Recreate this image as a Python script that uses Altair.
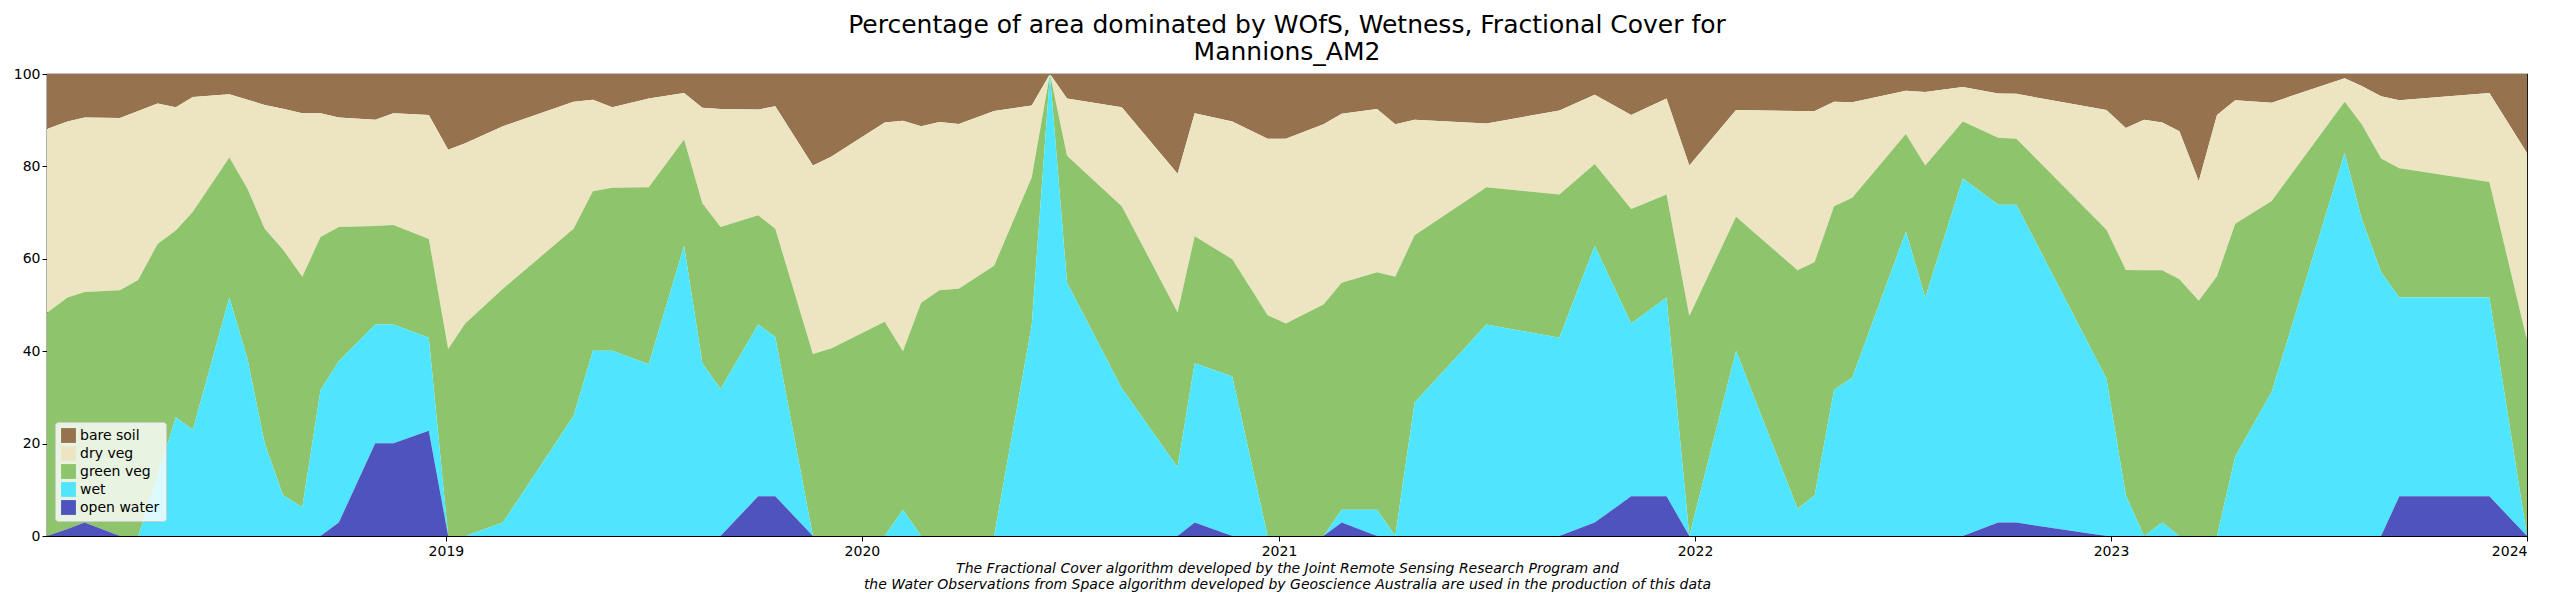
import altair as alt
import pandas as pd

dates = ["2018-01-16","2018-02-03","2018-02-18","2018-03-21","2018-04-06","2018-04-23","2018-05-09","2018-05-24",
"2018-06-25","2018-07-11","2018-07-26","2018-08-11","2018-08-28","2018-09-13","2018-09-29","2018-10-31",
"2018-11-16","2018-12-17","2019-01-03","2019-01-18","2019-02-20","2019-04-23","2019-05-10","2019-05-27",
"2019-06-28","2019-07-29","2019-08-14","2019-08-30","2019-10-02","2019-10-17","2019-11-19","2019-12-05",
"2020-01-21","2020-02-06","2020-02-22","2020-03-09","2020-03-26","2020-04-26","2020-05-29","2020-06-14",
"2020-06-29","2020-08-16","2020-10-04","2020-10-19","2020-11-21","2020-12-22","2021-01-07","2021-02-09",
"2021-02-25","2021-03-28","2021-04-13","2021-04-30","2021-07-02","2021-09-04","2021-10-05","2021-11-06",
"2021-12-07","2021-12-27","2022-02-06","2022-04-01","2022-04-16","2022-05-03","2022-05-19","2022-07-05",
"2022-07-22","2022-08-24","2022-09-24","2022-10-10","2022-12-28","2023-01-14","2023-01-30","2023-02-15",
"2023-03-02","2023-03-19","2023-04-04","2023-04-20","2023-05-22","2023-07-25","2023-08-09","2023-08-26",
"2023-09-11","2023-11-29","2024-01-01"]

open_water = [0,1.5,2.9,0,0,0,0,0,0,0,0,0,0,0,2.9,20.1,20.1,22.8,0,0,0,0,0,0,0,0,0,0,8.6,8.6,0,0,
0,0,0,0,0,0,0,0,0,0,0,2.9,0,0,0,0,2.9,0,0,0,0,0,2.9,8.6,8.6,0,0,0,0,0,0,0,0,0,2.9,2.9,0,0,0,0,
0,0,0,0,0,0,0,0,8.6,8.6,0]
wet = [0,0,0,0,0,13,25.7,23,51.6,38.2,20.1,8.8,6.2,31.6,34.9,25.7,25.7,20.1,0,0,2.9,26,40.1,40.1,
37.2,62.8,37.4,31.8,37.2,34.5,0,0,0,5.7,0,0,0,0,45.6,100,54.8,32,14.9,34.5,34.5,0,0,0,2.8,5.7,0,28.9,
45.8,42.9,59.9,37.4,43,0,40.1,5.9,8.8,31.6,34.3,65.9,51.6,77.4,68.8,68.8,34.1,8.8,0,2.9,0,0,0,17.2,
31.2,82.9,68.6,57.1,43,43,0]
green_veg = [48.3,50.1,49.9,53.2,55.4,50.2,40.4,47.2,30.3,36.9,46.4,53.2,49.9,33.1,29.1,21.3,21.5,21.4,
40.5,46,50.6,40.5,34.5,35.3,38.3,23,34.6,35.1,23.6,23.4,39.4,40.6,46.4,34.3,50.5,53.2,53.5,58.5,32,0,
27.5,39.4,33.5,27.5,25.4,47.8,46,50.1,49.1,51.4,56.1,36.2,29.7,31,17.7,24.8,22.3,47.6,29,51.6,50.5,39.8,
38.9,21.1,28.6,12.3,14.5,14.3,32.2,48.8,57.5,54.6,55.6,50.9,56.2,50.4,41.3,11.1,20.5,24.6,28,25,42.3]
dry_veg = [39.8,38.1,37.8,37.3,36.6,30.4,26.7,24.8,13.7,19.3,26.8,30.5,35.4,26.8,23.7,23,24.2,26.8,43.1,
39,35.2,27.5,19.8,17.4,19.2,10.1,20.7,25.5,22.9,26.5,40.8,41.5,43.1,49.9,38.2,36.4,35.7,33.5,15.6,0,12.4,
21.4,30,26.6,29.8,38.2,40,39,36.6,35.3,33,25,13.8,18.2,15,20.3,20.8,32.6,23.1,34.5,32.7,22.6,20.7,9.4,15.9,
7.5,9.6,9.7,25.9,30.7,32.6,32,32,25.9,34.9,26.7,21.3,5.1,8.3,13.5,14.7,19.3,40.6]
bare_soil = [11.9,10.3,9.4,9.5,8,6.4,7.2,5,4.4,5.6,6.7,7.5,8.5,8.5,9.4,9.9,8.5,8.9,16.4,15,11.3,6,5.6,7.2,
5.3,4.1,7.3,7.6,7.7,7,19.8,17.9,10.5,10.1,11.3,10.4,10.8,8,6.8,0,5.3,7.2,21.6,8.5,10.3,14,14,10.9,8.6,7.6,
10.9,9.9,10.7,7.9,4.5,8.9,5.3,19.8,7.8,8,8,6,6.1,3.6,3.9,2.8,4.2,4.3,7.8,11.7,9.9,10.5,12.4,23.2,8.9,5.7,
6.2,0.9,2.6,4.8,5.7,4.1,17.1]

series = ["bare soil", "dry veg", "green veg", "wet", "open water"]
colors = ["#96734E", "#EDE5C2", "#8DC46C", "#50E5FF", "#4F53BE"]
values = {"bare soil": bare_soil, "dry veg": dry_veg, "green veg": green_veg,
          "wet": wet, "open water": open_water}
stack_rank = {"open water": 0, "wet": 1, "green veg": 2, "dry veg": 3, "bare soil": 4}

rows = []
for s in series:
    for d, v in zip(dates, values[s]):
        rows.append({"date": d, "cover": s, "pct": v, "rank": stack_rank[s]})
df = pd.DataFrame(rows)

caption = ["The Fractional Cover algorithm developed by the Joint Remote Sensing Research Program and",
           "the Water Observations from Space algorithm developed by Geoscience Australia are used in the production of this data"]

chart = alt.Chart(df).mark_area(interpolate="linear", opacity=1).encode(
    x=alt.X("date:T",
            scale=alt.Scale(domain=[alt.DateTime(year=2018, month=1, date=16),
                                    alt.DateTime(year=2024, month=1, date=1)], nice=False),
            axis=alt.Axis(format="%Y", tickCount="year", grid=False, title=caption,
                          titleFontStyle="italic", titleFontWeight="normal", titleFontSize=14,
                          titleLineHeight=16, titlePadding=3, labelFontSize=14, labelPadding=3,
                          tickColor="black", domainColor="black", labelColor="black", titleColor="black")),
    y=alt.Y("pct:Q", stack="zero", scale=alt.Scale(domain=[0, 100], nice=False),
            axis=alt.Axis(values=[0, 20, 40, 60, 80, 100], grid=False, title=None,
                          labelFontSize=14, tickColor="black", domainColor="black", labelColor="black")),
    color=alt.Color("cover:N", scale=alt.Scale(domain=series, range=colors),
                    legend=alt.Legend(title=None, orient="none", legendX=8, legendY=348,
                                      symbolType="square", symbolSize=220, labelFontSize=14,
                                      fillColor="rgba(255,255,255,0.8)", strokeColor="#cccccc",
                                      padding=6, cornerRadius=3, rowPadding=3,
                                      symbolStrokeWidth=0, symbolOpacity=1)),
    order=alt.Order("rank:Q", sort="ascending"),
).properties(
    width=2480, height=462,
    title=alt.TitleParams(["Percentage of area dominated by WOfS, Wetness, Fractional Cover for", "Mannions_AM2"],
                          fontSize=25, fontWeight="normal", color="black", offset=2, lineHeight=27),
).configure(font="DejaVu Sans").configure_view(stroke="black", strokeWidth=1.2)

chart.save("out.html", embed_options={"renderer": "svg", "actions": False})
